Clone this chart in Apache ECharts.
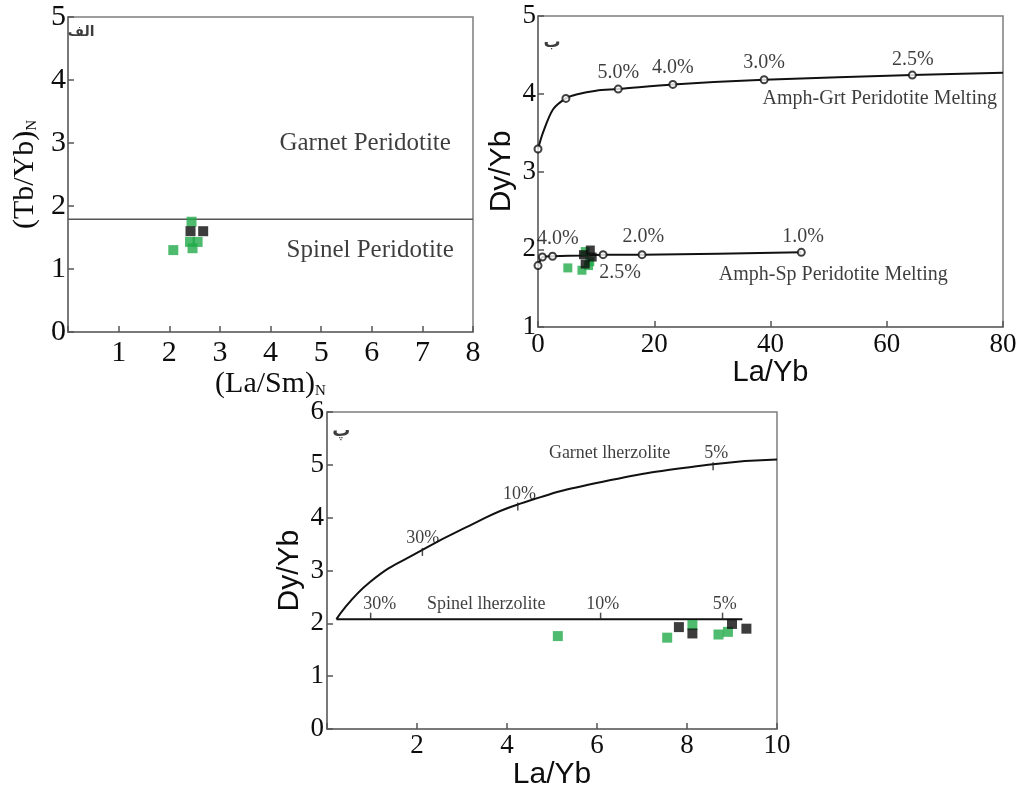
<!DOCTYPE html>
<html>
<head>
<meta charset="utf-8">
<script src="https://cdn.jsdelivr.net/npm/echarts@6/dist/echarts.min.js"></script>
<style>
  html, body { margin: 0; padding: 0; background: #fff; }
  #chart { width: 1025px; height: 791px; }
</style>
</head>
<body>
<div id="chart"></div>
<script>
// ---- Panel A: (La/Sm)N vs (Tb/Yb)N ----
const laSmN_green = [2.08, 2.44, 2.41, 2.56, 2.46];
const tbYbN_green = [1.30, 1.75, 1.43, 1.43, 1.33];
const laSmN_black = [2.42, 2.67];
const tbYbN_black = [1.60, 1.60];
const garnetSpinelBoundary = 1.79;
const xTicksA = [0, 8, 1];   // min, max, interval
const yTicksA = [0, 5, 1];

// ---- Samples on La/Yb vs Dy/Yb (panels B and C) ----
const laYb_green = [5.13, 7.56, 8.12, 8.70, 8.91];
const dyYb_green = [1.76, 1.73, 1.97, 1.79, 1.84];
const laYb_black = [7.82, 8.12, 9.00, 9.32];
const dyYb_black = [1.93, 1.81, 1.99, 1.90];

// ---- Panel B: amphibole peridotite melting curves ----
const grtCurveLa = [0, 0.86, 2.6, 4.8, 6.6, 10, 13.8, 23.2, 38.9, 64.4, 80];
const grtCurveDy = [3.29, 3.50, 3.80, 3.94, 3.99, 4.04, 4.06, 4.12, 4.18, 4.24, 4.27];
const grtNodeLa = [0, 4.8, 13.8, 23.2, 38.9, 64.4];
const grtNodeDy = [3.29, 3.94, 4.06, 4.12, 4.18, 4.24];
const spCurveLa = [0, 0.75, 2.5, 8, 11.2, 17.9, 45.3];
const spCurveDy = [1.79, 1.90, 1.91, 1.92, 1.93, 1.93, 1.96];
const spNodeLa = [0, 0.75, 2.5, 11.2, 17.9, 45.3];
const spNodeDy = [1.79, 1.90, 1.91, 1.93, 1.93, 1.96];
const xTicksB = [0, 80, 20];
const yTicksB = [1, 5, 1];

// ---- Panel C: lherzolite melting curves ----
const garnetLhzLa = [0.21, 0.95, 2.12, 3.17, 4.24, 6.13, 8.58, 10];
const garnetLhzDy = [2.08, 2.78, 3.39, 3.85, 4.25, 4.68, 5.01, 5.10];
const garnetLhzTickLa = [2.12, 4.24, 8.58];
const garnetLhzTickDy = [3.39, 4.25, 5.01];
const spinelLhzLa = [0.21, 9.23];
const spinelLhzDy = [2.08, 2.08];
const spinelLhzTickLa = [0.97, 6.08, 8.79];
const xTicksC = [0, 10, 2];
const yTicksC = [0, 6, 1];

const GREEN = '#22aa4a';
const BLACK = '#0b0b0b';
const INK = '#0d0d0d';
const SERIF = 'Liberation Serif';
const SANS = 'Liberation Sans';

const zip = (xs, ys) => xs.map((x, i) => [x, ys[i]]);

function axis(ticks, gridIndex, opts) {
  return Object.assign({
    type: 'value', gridIndex,
    min: ticks[0], max: ticks[1], interval: ticks[2],
    axisLine: { show: true, onZero: false, lineStyle: { color: '#6e6e6e', width: 1.5 } },
    axisTick: { show: true, inside: true, length: 6, lineStyle: { color: '#555', width: 1.5 } },
    splitLine: { show: false },
    nameLocation: 'middle'
  }, opts);
}

function labelStyle(size, margin, hideZero) {
  return {
    fontFamily: SERIF, fontSize: size, color: INK, margin,
    formatter: v => (hideZero && v === 0) ? '' : String(v)
  };
}

function squares(data, color, xi, size) {
  return {
    type: 'scatter', xAxisIndex: xi, yAxisIndex: xi, data,
    symbol: 'rect', symbolSize: size, itemStyle: { color }, silent: true, z: 5
  };
}

function curve(data, xi, smooth) {
  return {
    type: 'line', xAxisIndex: xi, yAxisIndex: xi, data,
    smooth: smooth, showSymbol: false, silent: true,
    lineStyle: { color: '#111', width: 2 }, z: 3
  };
}

function texts(items, xi, size, family, extra) {
  return {
    type: 'scatter', xAxisIndex: xi, yAxisIndex: xi, silent: true, z: 6,
    symbolSize: 0,
    data: items.map(t => ({ value: [t[1], t[2]], name: t[0] })),
    label: Object.assign({
      show: true, position: 'inside', formatter: p => p.name,
      fontFamily: family, fontSize: size, color: INK,
      textBorderWidth: 0, textShadowBlur: 0
    }, extra || {})
  };
}

const chart = echarts.init(document.getElementById('chart'), null, { renderer: 'canvas' });

const gridStyle = { show: true, borderColor: '#7e7e7e', borderWidth: 1.5, backgroundColor: 'transparent' };
const subRich = { sub: { fontFamily: SERIF, fontSize: 15, color: INK, padding: [14, 0, 0, 0] } };

const option = {
  animation: false,
  backgroundColor: '#fff',
  grid: [
    Object.assign({ left: 68, top: 17, width: 405, height: 315 }, gridStyle),
    Object.assign({ left: 538, top: 16, width: 465, height: 311 }, gridStyle),
    Object.assign({ left: 327, top: 412, width: 450, height: 326 }, gridStyle)
  ],
  xAxis: [
    axis(xTicksA, 0, {
      name: '(La/Sm){sub|N}', nameGap: 34,
      nameTextStyle: { fontFamily: SERIF, fontSize: 30, color: INK, rich: subRich },
      axisLabel: labelStyle(30, 6, true)
    }),
    axis(xTicksB, 1, {
      name: 'La/Yb', nameGap: 30,
      nameTextStyle: { fontFamily: SANS, fontSize: 29, color: INK },
      axisLabel: labelStyle(27, 4, false)
    }),
    axis(xTicksC, 2, {
      name: 'La/Yb', nameGap: 26,
      nameTextStyle: { fontFamily: SANS, fontSize: 30, color: INK },
      axisLabel: labelStyle(27, 3, true)
    })
  ],
  yAxis: [
    axis(yTicksA, 0, {
      name: '(Tb/Yb){sub|N}', nameGap: 28,
      nameTextStyle: { fontFamily: SERIF, fontSize: 30, color: INK, rich: subRich },
      axisLabel: labelStyle(30, 2, false)
    }),
    axis(yTicksB, 1, {
      name: 'Dy/Yb', nameGap: 21,
      nameTextStyle: { fontFamily: SANS, fontSize: 30, color: INK },
      axisLabel: labelStyle(27, 2, false)
    }),
    axis(yTicksC, 2, {
      name: 'Dy/Yb', nameGap: 22,
      nameTextStyle: { fontFamily: SANS, fontSize: 30, color: INK },
      axisLabel: labelStyle(27, 3, false)
    })
  ],
  series: [
    // Panel A
    {
      type: 'line', xAxisIndex: 0, yAxisIndex: 0, showSymbol: false, silent: true,
      data: [[xTicksA[0], garnetSpinelBoundary], [xTicksA[1], garnetSpinelBoundary]],
      lineStyle: { color: '#555', width: 1.5 }, z: 3
    },
    squares(zip(laSmN_green, tbYbN_green), GREEN, 0, 10),
    squares(zip(laSmN_black, tbYbN_black), BLACK, 0, 10),
    texts([
      ['Garnet Peridotite', 5.87, 3.0],
      ['Spinel Peridotite', 5.97, 1.30]
    ], 0, 25, SERIF),
    texts([['الف', 0.26, 4.76]], 0, 14, 'DejaVu Sans', { fontWeight: 'bold' }),

    // Panel B
    curve(zip(grtCurveLa, grtCurveDy), 1, 0.3),
    curve(zip(spCurveLa, spCurveDy), 1, 0.2),
    {
      type: 'scatter', xAxisIndex: 1, yAxisIndex: 1, silent: true, z: 4,
      data: zip(grtNodeLa, grtNodeDy).concat(zip(spNodeLa, spNodeDy)),
      symbol: 'emptyCircle', symbolSize: 7,
      itemStyle: { color: '#111', borderWidth: 1.5 }
    },
    squares(zip(laYb_green, dyYb_green), GREEN, 1, 9),
    squares(zip(laYb_black, dyYb_black), BLACK, 1, 9),
    texts([
      ['5.0%', 13.8, 4.27], ['4.0%', 23.2, 4.34], ['3.0%', 38.9, 4.40], ['2.5%', 64.5, 4.44],
      ['Amph-Grt Peridotite Melting', 58.8, 3.93],
      ['4.0%', 3.4, 2.13], ['2.0%', 18.1, 2.16], ['1.0%', 45.6, 2.16], ['2.5%', 14.1, 1.70],
      ['Amph-Sp Peridotite Melting', 50.8, 1.67]
    ], 1, 20, SERIF),
    texts([['ب', 2.4, 4.66]], 1, 17, 'DejaVu Sans', { fontWeight: 'bold' }),

    // Panel C
    curve(zip(garnetLhzLa, garnetLhzDy), 2, 0.5),
    curve(zip(spinelLhzLa, spinelLhzDy), 2, false),
    {
      type: 'scatter', xAxisIndex: 2, yAxisIndex: 2, silent: true, z: 4,
      data: zip(garnetLhzTickLa, garnetLhzTickDy),
      symbol: 'rect', symbolSize: [1.5, 8], symbolOffset: [0, 2], itemStyle: { color: '#222' }
    },
    {
      type: 'scatter', xAxisIndex: 2, yAxisIndex: 2, silent: true, z: 4,
      data: spinelLhzTickLa.map(x => [x, spinelLhzDy[0]]),
      symbol: 'rect', symbolSize: [1.5, 7], symbolOffset: [0, -3], itemStyle: { color: '#222' }
    },
    squares(zip(laYb_green, dyYb_green), GREEN, 2, 10),
    squares(zip(laYb_black, dyYb_black), BLACK, 2, 10),
    texts([
      ['30%', 2.13, 3.61], ['10%', 4.28, 4.44], ['5%', 8.65, 5.21],
      ['Garnet lherzolite', 6.28, 5.21],
      ['30%', 1.17, 2.36], ['Spinel lherzolite', 3.54, 2.36], ['10%', 6.13, 2.37], ['5%', 8.84, 2.37]
    ], 2, 18, SERIF),
    texts([['پ', 0.32, 5.64]], 2, 18, 'DejaVu Sans', { fontWeight: 'bold' })
  ]
};

chart.setOption(option);
</script>
</body>
</html>
